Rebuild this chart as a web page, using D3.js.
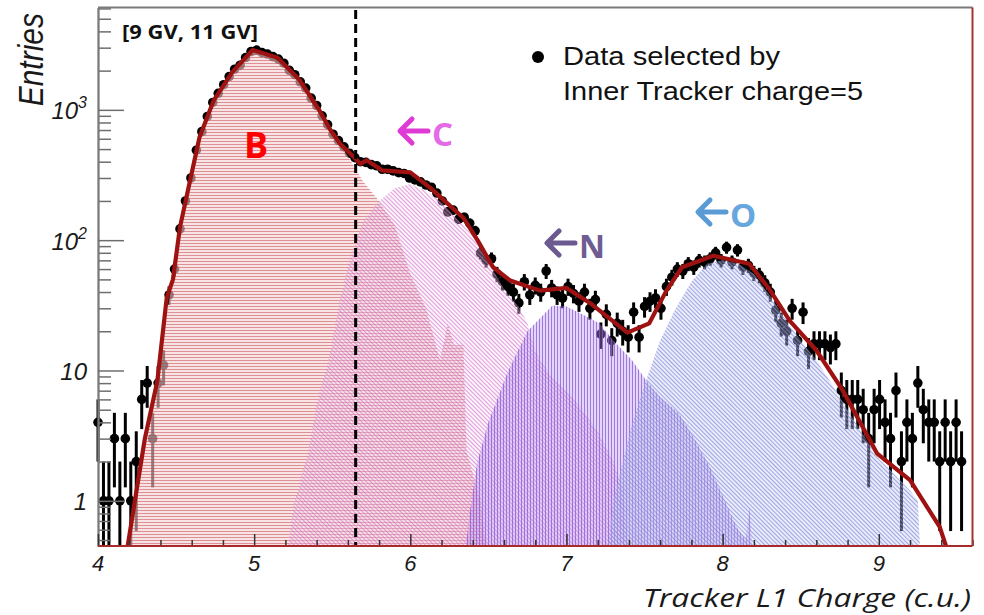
<!DOCTYPE html>
<html>
<head>
<meta charset="utf-8">
<script src="https://cdn.jsdelivr.net/npm/d3@7"></script>
<style>
  html, body { margin: 0; padding: 0; background: #fff; }
  svg { display: block; }
</style>
</head>
<body>
<script>
const W = 984, H = 615;
const mLeft = 98, mRight = 972.5, mTop = 7.5, mBottom = 546;

// data histogram: bins start at 4.0, width 0.035 (c.u.)
const binStart = 4.0, binWidth = 0.035;
const entries = [
  4, 1, 1, 3, 1, 3, 1, 2, 6, 8, 3, 8, 11, 38,
  60, 122, 200, 300, 490, 680, 890,
  1140, 1340, 1560, 1800, 2050, 2200, 2520, 2800,
  2870, 2750, 2680, 2560, 2450, 2280, 2010, 1860,
  1640, 1470, 1230, 1080, 900, 770, 650, 580,
  520, 465, 430, 400, 395, 380, 372, 350,
  350, 340, 330, 325, 300, 290, 280, 265,
  255, 230, 200, 165, 170, 145, 150, 135,
  118, 80, 70, 72, 55, 48, 44, 40,
  33, 48, 38, 45, 40, 58, 43, 38,
  36, 44, 39, 34, 40, 30, 35, 19,
  27, 17, 23, 20, 18, 28, 18, 31,
  34, 36, 30, 44, 52, 60, 58, 66,
  62, 70, 68, 72, 80, 70, 88, 68,
  84, 62, 64, 56, 54, 47, 40, 29,
  23, 20, 30, 17, 28, 14, 16, 16,
  16, 15, 16, 7,
  6, 6, 6, 5, 3, 5, 6, 4, 3, 7, 2, 4, 3, 8, 5, 4, 4, 2, 4, 2, 4, 2, 0
];

// templates (charge, entries)
const bCharge  = [4.17, 4.3, 4.4, 4.5, 4.6, 4.7, 4.8, 4.9, 5.0, 5.1, 5.2, 5.3, 5.4, 5.5, 5.6, 5.7, 5.8, 5.9, 6.0, 6.1, 6.19, 6.24, 6.28, 6.34, 6.36, 6.45, 6.5];
const bEntries = [0.3, 3, 13, 76, 327, 883, 1510, 2200, 2880, 2620, 2180, 1630, 1064, 668, 440, 280, 200, 130, 55, 30, 12, 23, 15.6, 15.6, 2.4, 1.0, 0.3];
const cCharge  = [5.2, 5.25, 5.35, 5.4, 5.48, 5.55, 5.61, 5.7, 5.8, 5.9, 6.0, 6.1, 6.2, 6.3, 6.4, 6.5, 6.6, 6.7, 6.75, 6.8, 6.9, 7.0, 7.1, 7.2, 7.3, 7.36, 7.4];
const cEntries = [0.3, 0.9, 2.5, 5.6, 12.6, 35, 70, 140, 200, 250, 270, 238, 195, 145, 108, 68, 42, 30, 23, 14, 9, 7, 5, 3.4, 2, 1.2, 0.3];
const nCharge  = [6.34, 6.38, 6.43, 6.5, 6.62, 6.75, 6.91, 7.0, 7.1, 7.21, 7.3, 7.42, 7.51, 7.6, 7.72, 7.82, 7.92, 8.0, 8.05, 8.1, 8.15, 8.17, 8.2];
const nEntries = [0.3, 0.8, 2.0, 4, 9.5, 20, 31.5, 31, 27, 23, 17, 12, 8.4, 6.3, 4.7, 3, 1.8, 1.1, 0.8, 0.6, 0.5, 0.9, 0.3];
const oCharge  = [7.25, 7.3, 7.42, 7.51, 7.6, 7.7, 7.8, 7.9, 8.0, 8.1, 8.2, 8.3, 8.4, 8.5, 8.6, 8.7, 8.8, 8.9, 9.0, 9.1, 9.2, 9.25, 9.27];
const oEntries = [0.3, 1.0, 3.9, 8.4, 17, 30, 48, 66, 70, 66, 55, 38, 25, 17, 12, 7.8, 5, 3.2, 2.1, 1.6, 1.2, 1.0, 0.3];

// total fit
const fitCharge  = [4.19, 4.30, 4.38, 4.44, 4.48, 4.525, 4.59, 4.65, 4.74, 4.86, 4.99, 5.15, 5.29, 5.42, 5.485, 5.55, 5.645, 5.68, 5.72, 5.82, 6.0, 6.13, 6.23, 6.34, 6.43, 6.53, 6.64, 6.83, 7.0, 7.15, 7.39, 7.53, 7.64, 7.74, 7.94, 8.17, 8.30, 8.43, 8.6, 8.77, 8.99, 9.2, 9.39, 9.43];
const fitEntries = [0.45, 3, 8.3, 36, 50, 126, 288, 616, 1175, 1950, 2880, 2510, 1700, 980, 710, 550, 427, 385, 410, 343, 331, 251, 195, 148, 100, 62, 49, 41, 43, 33, 19.5, 23, 41, 62, 76, 66, 42, 24, 14.3, 7.0, 2.3, 1.44, 0.63, 0.45];

const xTicks = [4, 5, 6, 7, 8, 9];
const yTicks = [1, 10, 100, 1000];
const yTickLabels = [['1', ''], ['10', ''], ['10', '2'], ['10', '3']];
const rigidityCut = 5.65;

const x = d3.scaleLinear().domain([4, 9.6]).range([mLeft, mRight]);
const y = d3.scaleLog().domain([0.45, 6100]).range([mBottom, mTop]);

const svg = d3.select('body').append('svg')
    .attr('width', W)
    .attr('height', H);

const defs = svg.append('defs');
defs.append('clipPath').attr('id', 'plot')
  .append('rect')
    .attr('x', mLeft).attr('y', mTop)
    .attr('width', mRight - mLeft).attr('height', mBottom - mTop);

// hatch fills
function hatch(id, angle, bg, ink, op) {
  const p = defs.append('pattern')
      .attr('id', id)
      .attr('patternUnits', 'userSpaceOnUse')
      .attr('width', 3).attr('height', 3)
      .attr('patternTransform', `rotate(${angle})`);
  p.append('rect').attr('width', 3).attr('height', 3).attr('fill', bg);
  p.append('line')
      .attr('x1', 0).attr('x2', 3).attr('y1', 0.5).attr('y2', 0.5)
      .attr('stroke', ink).attr('stroke-width', 1).attr('stroke-opacity', op);
}
hatch('hB', 0, 'rgba(244,210,210,0.6)', '#c23c44', 0.5);
hatch('hC', 45, 'rgba(240,215,240,0.3)', '#d266c6', 0.6);
hatch('hN', 90, 'rgba(182,148,236,0.38)', '#8a56d6', 0.75);
hatch('hO', 45, 'rgba(196,200,242,0.35)', '#8088d8', 0.7);

// data points with poisson errors (drawn first, fills go over them)
const pts = entries.map((v, i) => ({c: binStart + i * binWidth, v: v})).filter(d => d.v > 0);
const gPts = svg.append('g');
gPts.selectAll('line.err')
  .data(pts)
  .enter()
  .append('line')
    .attr('x1', d => x(d.c)).attr('x2', d => x(d.c))
    .attr('y1', d => y(Math.max(d.v - Math.sqrt(d.v), 0.45)))
    .attr('y2', d => y(d.v + Math.sqrt(d.v)))
    .attr('stroke', '#000')
    .attr('stroke-width', 3);
gPts.selectAll('circle')
  .data(pts)
  .enter()
  .append('circle')
    .attr('cx', d => x(d.c))
    .attr('cy', d => y(d.v))
    .attr('r', 4.8)
    .attr('fill', '#000');

// templates
const area = d3.area()
    .x(d => x(d[0]))
    .y0(mBottom)
    .y1(d => y(d[1]));
const templates = [
  [bCharge, bEntries, 'url(#hB)'],
  [cCharge, cEntries, 'url(#hC)'],
  [nCharge, nEntries, 'url(#hN)'],
  [oCharge, oEntries, 'url(#hO)']
];
const gTpl = svg.append('g').attr('clip-path', 'url(#plot)');
templates.forEach(t => {
  gTpl.append('path')
    .attr('d', area(d3.zip(t[0], t[1])))
    .attr('fill', t[2]);
});

// fit
const line = d3.line()
    .x(d => x(d[0]))
    .y(d => y(d[1]))
    .curve(d3.curveLinear);
svg.append('path')
    .attr('clip-path', 'url(#plot)')
    .attr('d', line(d3.zip(fitCharge, fitEntries)))
    .attr('fill', 'none')
    .attr('stroke', '#9e1212')
    .attr('stroke-width', 4.2)
    .attr('stroke-linejoin', 'round');

// rigidity cut line
svg.append('line')
    .attr('x1', x(rigidityCut)).attr('x2', x(rigidityCut))
    .attr('y1', 10).attr('y2', mBottom)
    .attr('stroke', '#000')
    .attr('stroke-width', 3)
    .attr('stroke-dasharray', '9,5');

// axes
const yMinor = y.ticks().filter(v => !yTicks.includes(v));
const yAxMinor = svg.append('g').attr('transform', `translate(${mLeft},0)`)
    .call(d3.axisRight(y).tickValues(yMinor).tickSize(13).tickFormat('').tickSizeOuter(0));
const yAxMajor = svg.append('g').attr('transform', `translate(${mLeft},0)`)
    .call(d3.axisRight(y).tickValues(yTicks).tickSize(26).tickFormat('').tickSizeOuter(0));
[yAxMinor, yAxMajor].forEach(g => {
  g.selectAll('line').attr('stroke', '#6e6e6e').attr('stroke-width', 1.5);
  g.select('.domain').attr('stroke', '#7a7a7a').attr('stroke-width', 1.8);
});

const xMinor = x.ticks(28).filter(v => !xTicks.includes(v));
const xAxMinor = svg.append('g').attr('transform', `translate(0,${mBottom})`)
    .call(d3.axisTop(x).tickValues(xMinor).tickSize(6).tickFormat('').tickSizeOuter(0));
const xAxMajor = svg.append('g').attr('transform', `translate(0,${mBottom})`)
    .call(d3.axisTop(x).tickValues(xTicks).tickSize(12).tickFormat('').tickSizeOuter(0));
[xAxMinor, xAxMajor].forEach(g => {
  g.selectAll('line').attr('stroke', '#333').attr('stroke-width', 1.5);
  g.select('.domain').remove();
});

// frame
svg.append('line').attr('x1', mLeft).attr('x2', mRight).attr('y1', mTop).attr('y2', mTop)
    .attr('stroke', '#7a7a7a').attr('stroke-width', 1.8);
svg.append('line').attr('x1', mRight).attr('x2', mRight).attr('y1', mTop).attr('y2', mBottom)
    .attr('stroke', '#a83232').attr('stroke-width', 2);
svg.append('line').attr('x1', mLeft).attr('x2', mRight).attr('y1', mBottom).attr('y2', mBottom)
    .attr('stroke', '#a82a2a').attr('stroke-width', 2.2);

// tick labels
svg.selectAll('text.xl')
  .data(xTicks)
  .enter()
  .append('text')
    .attr('x', d => x(d))
    .attr('y', 571)
    .attr('text-anchor', 'middle')
    .attr('font-family', 'Liberation Sans, Arial, sans-serif')
    .attr('font-style', 'italic')
    .attr('font-size', 22)
    .attr('fill', '#1a1a1a')
    .text(d => d);

const yl = svg.selectAll('text.yl')
  .data(yTicks)
  .enter()
  .append('text')
    .attr('x', 87)
    .attr('y', d => y(d) + 9.5)
    .attr('text-anchor', 'end')
    .attr('font-family', 'Liberation Sans, Arial, sans-serif')
    .attr('font-style', 'italic')
    .attr('font-size', 24)
    .attr('fill', '#1a1a1a');
yl.append('tspan').text((d, i) => yTickLabels[i][0]);
yl.append('tspan')
    .attr('dy', -11)
    .attr('font-size', 16)
    .text((d, i) => yTickLabels[i][1]);

// axis titles
svg.append('text')
    .attr('transform', 'translate(43,13) scale(1.15,1) rotate(-90)')
    .attr('text-anchor', 'end')
    .attr('font-family', 'Liberation Sans, Arial, sans-serif')
    .attr('font-style', 'italic')
    .attr('font-size', 30)
    .attr('fill', '#1a1a1a')
    .text('Entries');

svg.append('text')
    .attr('x', 971)
    .attr('y', 607)
    .attr('text-anchor', 'end')
    .attr('font-family', 'Open Sans, sans-serif')
    .attr('font-style', 'italic')
    .attr('font-size', 26)
    .attr('textLength', 328)
    .attr('lengthAdjust', 'spacingAndGlyphs')
    .attr('fill', '#1a1a1a')
    .text('Tracker L1 Charge (c.u.)');

// annotations
svg.append('text')
    .attr('x', 122).attr('y', 39)
    .attr('font-family', 'Open Sans, sans-serif')
    .attr('font-weight', 'bold')
    .attr('font-size', 20)
    .attr('textLength', 136)
    .attr('lengthAdjust', 'spacingAndGlyphs')
    .attr('fill', '#111')
    .text('[9 GV, 11 GV]');

svg.append('text')
    .attr('x', 256).attr('y', 158)
    .attr('text-anchor', 'middle')
    .attr('font-family', 'Open Sans, sans-serif')
    .attr('font-weight', 'bold')
    .attr('font-size', 36)
    .attr('fill', '#ff0000')
    .text('B');

const tags = [
  {t: 'C', ax: 398, ay: 131, col: '#e03ad6', tc: '#e46ae6', size: 33},
  {t: 'N', ax: 545, ay: 243, col: '#6b5a90', tc: '#6e5c92', size: 32},
  {t: 'O', ax: 696, ay: 212, col: '#5b9bd5', tc: '#68a6de', size: 33}
];
tags.forEach(g => {
  svg.append('path')
      .attr('d', `M${g.ax + 30},${g.ay} H${g.ax + 3} M${g.ax + 14},${g.ay - 12} L${g.ax + 2},${g.ay} L${g.ax + 14},${g.ay + 12}`)
      .attr('fill', 'none')
      .attr('stroke', g.col)
      .attr('stroke-width', 5)
      .attr('stroke-linecap', 'round')
      .attr('stroke-linejoin', 'round');
  svg.append('text')
      .attr('x', g.ax + 34).attr('y', g.ay + 15)
      .attr('font-family', 'Open Sans, sans-serif')
      .attr('font-weight', 'bold')
      .attr('font-size', g.size)
      .attr('fill', g.tc)
      .text(g.t);
});

// legend
svg.append('circle').attr('cx', 538).attr('cy', 57).attr('r', 6).attr('fill', '#000');
svg.append('text')
    .attr('x', 563).attr('y', 65)
    .attr('font-family', 'Liberation Sans, Arial, sans-serif')
    .attr('font-size', 25)
    .attr('textLength', 217)
    .attr('lengthAdjust', 'spacingAndGlyphs')
    .attr('fill', '#111')
    .text('Data selected by');
svg.append('text')
    .attr('x', 563).attr('y', 100)
    .attr('font-family', 'Liberation Sans, Arial, sans-serif')
    .attr('font-size', 25)
    .attr('textLength', 300)
    .attr('lengthAdjust', 'spacingAndGlyphs')
    .attr('fill', '#111')
    .text('Inner Tracker charge=5');
</script>
</body>
</html>
